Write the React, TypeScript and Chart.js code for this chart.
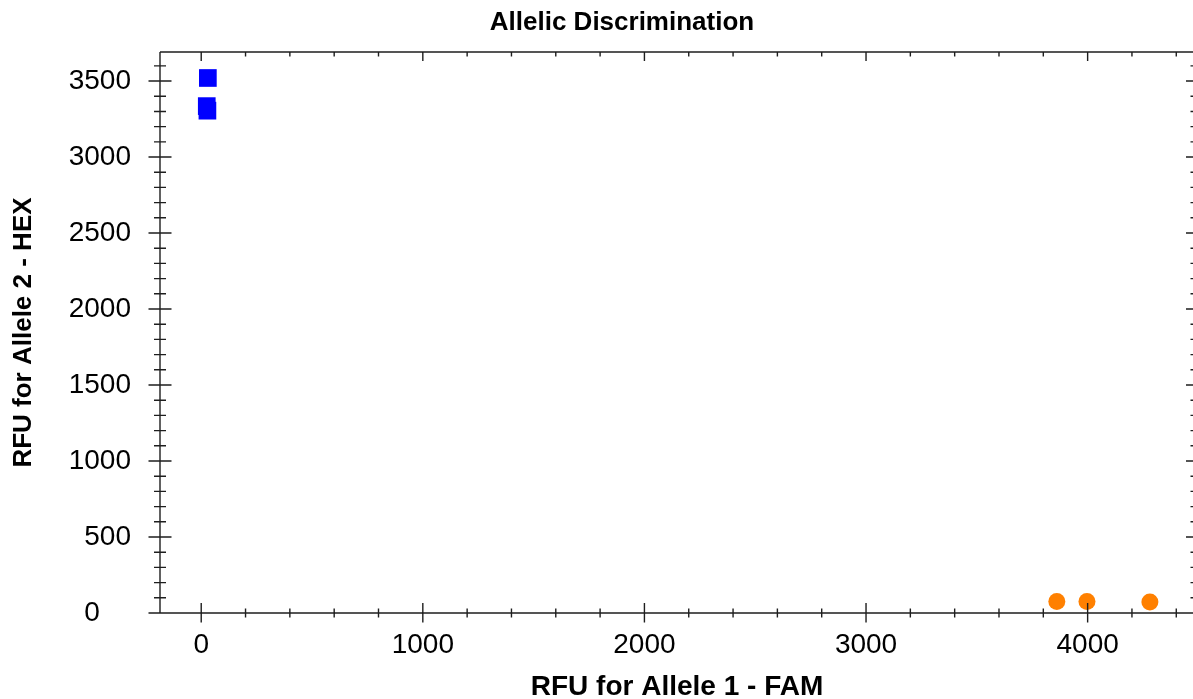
import React, { useEffect, useRef } from 'react';
import { Chart, registerables } from 'chart.js';

Chart.register(...registerables);

// ---- text ----
const CHART_TITLE = 'Allelic Discrimination';
const X_TITLE = 'RFU for Allele 1 - FAM';
const Y_TITLE = 'RFU for Allele 2 - HEX';

// ---- data ----
const allele2X = [30, 25, 28];
const allele2Y = [3520, 3335, 3305];
const allele1X = [3861, 3997, 4281];
const allele1Y = [75, 75, 73];

// ---- tick labels ----
const X_TICKS = [0, 1000, 2000, 3000, 4000];
const Y_TICKS = [0, 500, 1000, 1500, 2000, 2500, 3000, 3500];

// ---- axis ranges / minor tick steps ----
const X_MIN = -186;
const X_MAX = 4480;
const X_MAJOR = 1000;
const X_MINOR = 200;
const Y_MIN = 0;
const Y_MAX = 3691;
const Y_MAJOR = 500;
const Y_MINOR = 100;

const FONT = "'Liberation Sans', Arial, Helvetica, sans-serif";
const AXIS_COLOR = '#1e1e1e';

const titlePlugin = {
  id: 'customTitle',
  afterDraw(chart: any) {
    const { ctx } = chart;
    ctx.save();
    ctx.font = `bold 26px ${FONT}`;
    ctx.fillStyle = '#000';
    ctx.textAlign = 'center';
    ctx.textBaseline = 'middle';
    ctx.fillText(CHART_TITLE, 622, 23);
    ctx.restore();
  },
};

const frameTicksPlugin = {
  id: 'frameTicks',
  afterDraw(chart: any) {
    const { ctx, chartArea, scales } = chart;
    const { left, right, top, bottom } = chartArea;
    const xs = scales.x;
    const ys = scales.y;
    ctx.save();
    ctx.strokeStyle = AXIS_COLOR;
    ctx.lineWidth = 1.4;
    ctx.beginPath();
    // frame
    ctx.moveTo(left, top);
    ctx.lineTo(right, top);
    ctx.moveTo(right, top);
    ctx.lineTo(right, bottom);
    ctx.moveTo(left, top);
    ctx.lineTo(left, bottom);
    ctx.moveTo(left, bottom);
    ctx.lineTo(right, bottom);
    // x ticks
    for (let v = Math.ceil(X_MIN / X_MINOR) * X_MINOR; v <= X_MAX; v += X_MINOR) {
      const px = xs.getPixelForValue(v);
      if (px <= left || px >= right) continue;
      const major = Math.abs(v % X_MAJOR) === 0;
      ctx.moveTo(px, bottom - (major ? 10 : 4.5));
      ctx.lineTo(px, bottom + (major ? 9.5 : 4.5));
      ctx.moveTo(px, top);
      ctx.lineTo(px, top + (major ? 9 : 4.5));
    }
    // y ticks
    for (let v = Math.ceil(Y_MIN / Y_MINOR) * Y_MINOR; v <= Y_MAX; v += Y_MINOR) {
      const py = ys.getPixelForValue(v);
      const major = Math.abs(v % Y_MAJOR) === 0;
      ctx.moveTo(left - (major ? 11.5 : 6), py);
      ctx.lineTo(left + (major ? 11.5 : 6), py);
      ctx.moveTo(right, py);
      ctx.lineTo(right - (major ? 8 : 3.5), py);
    }
    ctx.stroke();
    ctx.restore();
  },
};

export default function App() {
  const canvasRef = useRef<HTMLCanvasElement | null>(null);

  useEffect(() => {
    if (!canvasRef.current) return;
    const chart = new Chart(canvasRef.current, {
      type: 'scatter',
      data: {
        datasets: [
          {
            label: 'Allele 2',
            data: allele2X.map((x, i) => ({ x, y: allele2Y[i] })),
            pointStyle: 'rect',
            pointRadius: 12.5,
            pointHoverRadius: 12.5,
            backgroundColor: '#0000FF',
            borderWidth: 0,
          },
          {
            label: 'Allele 1',
            data: allele1X.map((x, i) => ({ x, y: allele1Y[i] })),
            pointStyle: 'circle',
            pointRadius: 8.5,
            pointHoverRadius: 8.5,
            backgroundColor: '#FF8000',
            borderWidth: 0,
          },
        ],
      },
      options: {
        responsive: false,
        animation: false,
        devicePixelRatio: 1,
        layout: { autoPadding: false, padding: { top: 52, right: 1, left: 0, bottom: 0 } },
        plugins: {
          legend: { display: false },
          tooltip: { enabled: false },
          title: { display: false },
        },
        scales: {
          x: {
            type: 'linear',
            min: X_MIN,
            max: X_MAX,
            grid: { display: false, drawTicks: false },
            border: { display: false },
            afterBuildTicks(scale: any) {
              scale.ticks = X_TICKS.map((value) => ({ value }));
            },
            ticks: {
              padding: 15,
              color: '#000',
              maxRotation: 0,
              autoSkip: false,
              font: { family: FONT, size: 28 },
              callback: (value: any) => String(value),
            },
            title: {
              display: true,
              text: X_TITLE,
              color: '#000',
              font: { family: FONT, size: 28, weight: 'bold', lineHeight: 0.8 },
              padding: { top: 0, bottom: 1 },
            },
            afterFit(scale: any) {
              scale.height = 86;
              scale.paddingLeft = 0;
              scale.paddingRight = 0;
            },
          },
          y: {
            type: 'linear',
            min: Y_MIN,
            max: Y_MAX,
            grid: { display: false, drawTicks: false },
            border: { display: false },
            afterBuildTicks(scale: any) {
              scale.ticks = Y_TICKS.map((value) => ({ value }));
            },
            ticks: {
              padding: 29,
              color: '#000',
              autoSkip: false,
              font: { family: FONT, size: 28 },
              callback: (value: any) => (Number(value) === 0 ? '0    ' : String(value)),
            },
            title: {
              display: true,
              text: Y_TITLE,
              color: '#000',
              font: { family: FONT, size: 26, weight: 'bold' },
              padding: { top: 8, bottom: 0 },
            },
            afterFit(scale: any) {
              scale.width = 160;
              scale.paddingTop = 0;
              scale.paddingBottom = 0;
            },
          },
        },
      },
      plugins: [frameTicksPlugin, titlePlugin],
    });
    return () => chart.destroy();
  }, []);

  return (
    <div
      style={{
        position: 'fixed',
        left: 0,
        top: 0,
        width: 1193,
        height: 699,
        overflow: 'hidden',
        background: '#fff',
      }}
    >
      <canvas ref={canvasRef} width={1195} height={699} style={{ display: 'block' }} />
    </div>
  );
}
